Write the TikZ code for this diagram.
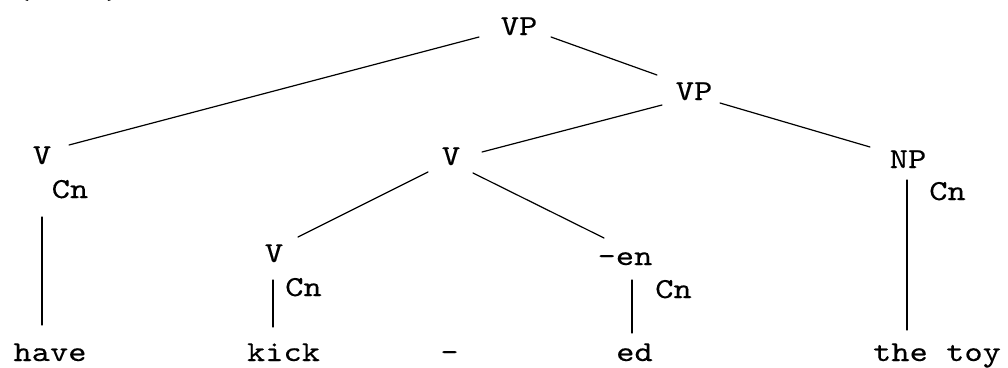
\documentclass[tikz,border=0pt]{standalone}
\usepackage{fontspec}
\newfontfamily\treemono[Extension=.otf,FakeStretch=1.2,FakeBold=0.25]{lmmono10-regular}
\usetikzlibrary{calc}
\begin{document}
\begin{tikzpicture}[x=1pt,y=-1pt,
  lab/.style={anchor=base,inner sep=0pt,font=\treemono\fontsize{29}{34}\selectfont},
  edge/.style={line width=1.2pt,line cap=round}]
\useasboundingbox (0,0) rectangle (1008,367);
% numbering (clipped at the top of the page)
\node[lab] (num) at (68,-1.5) {(1.42)};
% nodes
\node[lab] (VPa) at (519,35) {VP};
\node[lab] (VPb) at (694,100) {VP};
\node[lab] (VL) at (42,164) {V};
\node[lab] (CnL) at (70,198) {Cn};
\node[lab] (have) at (50,361) {have};
\node[lab] (VM) at (451,165) {V};
\node[lab] (VLL) at (274,262) {V};
\node[lab] (CnLL) at (303.5,296) {Cn};
\node[lab] (kick) at (283.5,361) {kick};
\node[lab] (dash) at (449.5,361) {-};
\node[lab] (EN) at (625,265) {-en};
\node[lab] (CnEN) at (673.5,298) {Cn};
\node[lab] (ed) at (634.5,361) {ed};
\node[lab] (NP) at (908,168) {NP};
\node[lab] (CnNP) at (947.5,200) {Cn};
\node[lab] (toy) at (937,361) {the toy};
% connectors
\draw[edge] ($(VPa.base)+(-40,2)$) -- ($(VL.base)+(27,-19)$);
\draw[edge] ($(VPa.base)+(32,2)$) -- ($(VPb.base)+(-37,-25)$);
\draw[edge] ($(VPb.base)+(-32,5)$) -- ($(VM.base)+(31,-13)$);
\draw[edge] ($(VPb.base)+(26,3)$) -- ($(NP.base)+(-38,-21)$);
\draw[edge] ($(VM.base)+(-23,7)$) -- ($(VLL.base)+(24,-25)$);
\draw[edge] ($(VM.base)+(22,8)$) -- ($(EN.base)+(-21,-27)$);
\draw[edge] ($(VL.base)+(0,53)$) -- ($(have.base)+(-8,-36)$);
\draw[edge] ($(VLL.base)+(-1,18)$) -- ($(kick.base)+(-10.5,-34)$);
\draw[edge] ($(EN.base)+(7,15)$) -- ($(ed.base)+(-2.5,-28)$);
\draw[edge] ($(NP.base)+(-1,12)$) -- ($(toy.base)+(-30,-31)$);
\end{tikzpicture}
\end{document}
